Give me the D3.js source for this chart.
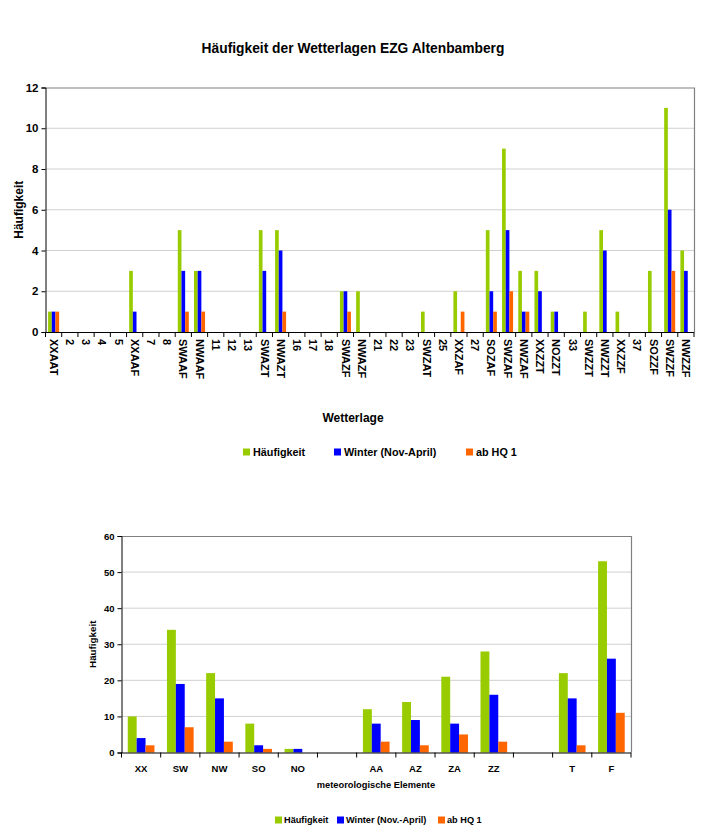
<!DOCTYPE html>
<html><head><meta charset="utf-8">
<script src="https://cdn.jsdelivr.net/npm/d3@7"></script>
<style>
body{margin:0;background:#fff;}
svg text{font-family:"Liberation Sans",Arial,sans-serif;font-weight:bold;fill:#000;}
</style></head>
<body><svg id="c" width="703" height="839"></svg>
<script>
// ---------- data: top chart ----------
const topCategories = ["XXAAT","2","3","4","5","XXAAF","7","8","SWAAF","NWAAF","11","12","13","SWAZT","NWAZT","16","17","18","SWAZF","NWAZF","21","22","23","SWZAT","25","XXZAF","27","SOZAF","SWZAF","NWZAF","XXZZT","NOZZT","33","SWZZT","NWZZT","XXZZF","37","SOZZF","SWZZF","NWZZF"];
const topHaeufigkeit = [1,0,0,0,0,3,0,0,5,3,0,0,0,5,5,0,0,0,2,2,0,0,0,1,0,2,0,5,9,3,3,1,0,1,5,1,0,3,11,4];
const topWinter      = [1,0,0,0,0,1,0,0,3,3,0,0,0,3,4,0,0,0,2,0,0,0,0,0,0,0,0,2,5,1,2,1,0,0,4,0,0,0,6,3];
const topHQ1         = [1,0,0,0,0,0,0,0,1,1,0,0,0,0,1,0,0,0,1,0,0,0,0,0,0,1,0,1,2,1,0,0,0,0,0,0,0,0,3,0];
const topYTicks = [0,2,4,6,8,10,12];

// ---------- data: bottom chart ----------
const botCategories = ["XX","SW","NW","SO","NO","","AA","AZ","ZA","ZZ"," ","T","F"];
const botHaeufigkeit = [10,34,22,8,1,0,12,14,21,28,0,22,53];
const botWinter      = [4,19,15,2,1,0,8,9,8,16,0,15,26];
const botHQ1         = [2,7,3,1,0,0,3,2,5,3,0,2,11];
const botYTicks = [0,10,20,30,40,50,60];

const seriesKeys = ["h","w","q"];
const colors = {h:"#99cc00", w:"#0000ff", q:"#ff6600"};

const svg = d3.select("#c");

function drawChart(o){
  const g = svg.append("g");
  const x = d3.scaleBand().domain(o.cats.map((c,i)=>i)).range([o.left,o.right]).padding(0);
  const bw = x.bandwidth();
  const x1 = d3.scaleBand().domain(seriesKeys).range([bw*0.16, bw*0.84]).padding(0);
  const y = d3.scaleLinear().domain([0,o.ymax]).range([o.bottom,o.top]);

  // gridlines
  g.append("g").selectAll("line").data(o.yticks.filter(t=>t>0 && t<o.ymax)).join("line")
    .attr("x1",o.left).attr("x2",o.right).attr("y1",d=>y(d)).attr("y2",d=>y(d))
    .attr("stroke","#d0d0d0").attr("stroke-width",1);
  // top/right border
  g.append("path").attr("d",`M${o.left},${o.top+0.5}H${o.right+0.5}V${o.bottom}`)
    .attr("fill","none").attr("stroke","#808080").attr("stroke-width",1.2);

  // bars
  const rows = o.cats.map((c,i)=>({i, h:o.h[i], w:o.w[i], q:o.q[i]}));
  const grp = g.append("g").selectAll("g").data(rows).join("g")
    .attr("transform",d=>`translate(${x(d.i)},0)`);
  grp.selectAll("rect").data(d=>seriesKeys.map(k=>({k,v:d[k]})).filter(e=>e.v>0)).join("rect")
    .attr("x",e=>x1(e.k)).attr("width",x1.bandwidth())
    .attr("y",e=>y(e.v)).attr("height",e=>y(0)-y(e.v))
    .attr("fill",e=>colors[e.k]);

  // y axis
  const ya = d3.axisLeft(y).tickValues(o.yticks).tickSize(4).tickPadding(3).tickFormat(d3.format("d"));
  const yg = g.append("g").attr("transform",`translate(${o.left},0)`).call(ya);
  yg.select(".domain").attr("stroke","#000");
  yg.selectAll(".tick line").attr("stroke","#000");
  yg.selectAll("text").style("font-size",o.tickFont+"px").style("font-family","Liberation Sans, Arial").style("font-weight","bold");

  // x axis line and ticks at band boundaries
  g.append("line").attr("x1",o.left).attr("x2",o.right).attr("y1",o.bottom+0.5).attr("y2",o.bottom+0.5).attr("stroke","#000");
  const bounds = o.cats.map((c,i)=>x(i)).concat([o.right]);
  g.append("g").selectAll("line").data(bounds).join("line")
    .attr("x1",d=>d).attr("x2",d=>d).attr("y1",o.bottom).attr("y2",o.bottom+5).attr("stroke","#000");

  // x labels
  if(o.rotate){
    g.append("g").selectAll("text").data(o.cats.map((c,i)=>({c,i}))).join("text")
      .attr("transform",d=>`translate(${x(d.i)+bw/2},${o.bottom+7}) rotate(90)`)
      .attr("dy","0.35em").attr("text-anchor","start")
      .style("font-size",o.xFont+"px").text(d=>d.c);
  } else {
    g.append("g").selectAll("text").data(o.cats.map((c,i)=>({c,i}))).join("text")
      .attr("x",d=>x(d.i)+bw/2).attr("y",o.bottom+19).attr("text-anchor","middle")
      .style("font-size",o.xFont+"px").text(d=>d.c.trim());
  }

  // axis titles
  g.append("text").attr("transform",`translate(${o.yTitleX},${(o.top+o.bottom)/2}) rotate(-90)`)
    .attr("text-anchor","middle").style("font-size",o.yTitleFont+"px").text("Häufigkeit");
  g.append("text").attr("x",o.xTitleX).attr("y",o.xTitleY).attr("text-anchor","middle")
    .style("font-size",o.xTitleFont+"px").text(o.xTitle);

  // legend
  const lg = g.append("g");
  o.legend.forEach((l,i)=>{
    lg.append("rect").attr("x",l.x).attr("y",o.legY-3.5).attr("width",7).attr("height",7).attr("fill",colors[seriesKeys[i]]);
    lg.append("text").attr("x",l.x+l.tx).attr("y",o.legY).attr("dy","0.35em")
      .style("font-size",o.legFont+"px").text(l.label);
  });
}

// title
svg.append("text").attr("x",353).attr("y",53).attr("text-anchor","middle")
  .style("font-size","13.8px").text("Häufigkeit der Wetterlagen EZG Altenbamberg");

drawChart({
  cats:topCategories, h:topHaeufigkeit, w:topWinter, q:topHQ1, yticks:topYTicks, ymax:12,
  left:45.5, right:694, top:87.5, bottom:332,
  tickFont:11.5, xFont:11, rotate:true,
  yTitleX:23, yTitleFont:12,
  xTitle:"Wetterlage", xTitleX:353, xTitleY:422, xTitleFont:12,
  legY:452, legFont:10.8,
  legend:[{x:243,tx:10,label:"Häufigkeit"},{x:334,tx:10,label:"Winter (Nov-April)"},{x:466,tx:10,label:"ab HQ 1"}]
});

drawChart({
  cats:botCategories, h:botHaeufigkeit, w:botWinter, q:botHQ1, yticks:botYTicks, ymax:60,
  left:121.5, right:631, top:536, bottom:752.5,
  tickFont:9.5, xFont:9.5, rotate:false,
  yTitleX:96, yTitleFont:9.8,
  xTitle:"meteorologische Elemente", xTitleX:376, xTitleY:788, xTitleFont:9.3,
  legY:820, legFont:9.2,
  legend:[{x:275,tx:9,label:"Häufigkeit"},{x:337,tx:9,label:"Winter (Nov.-April)"},{x:438,tx:9,label:"ab HQ 1"}]
});
</script>
</body></html>
